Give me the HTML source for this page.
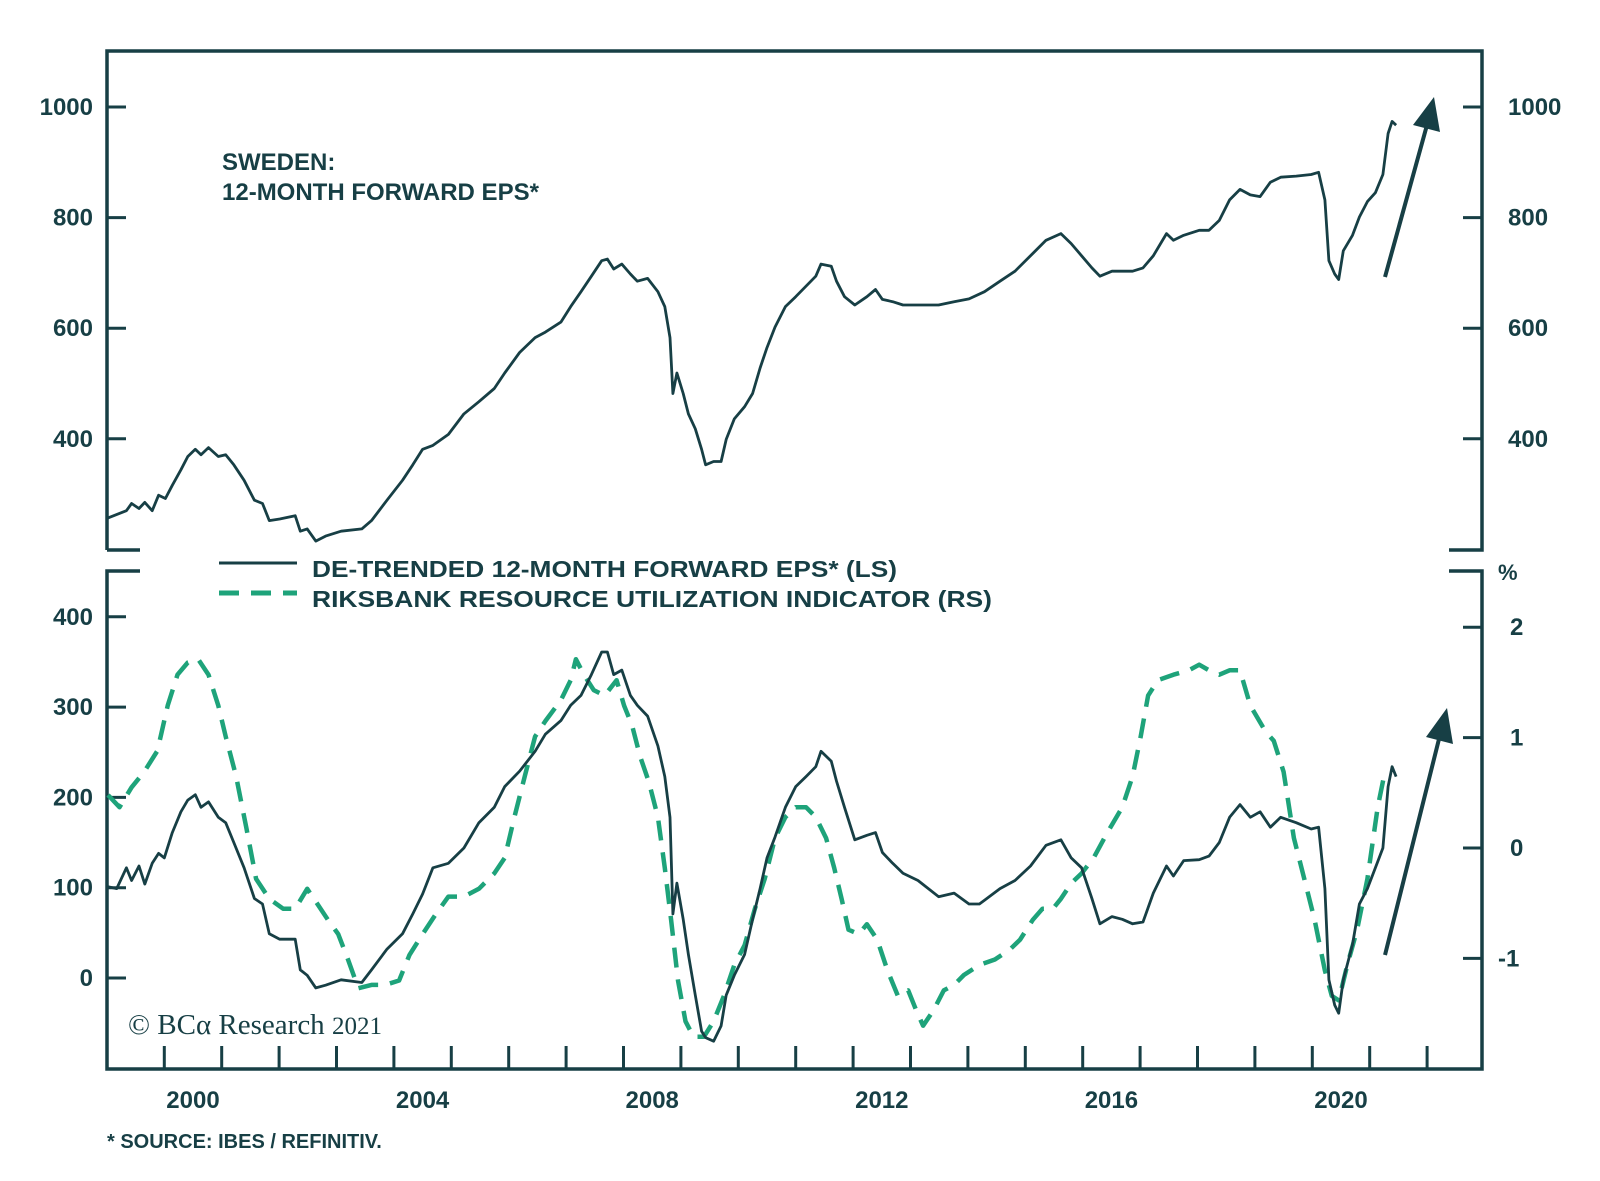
<!DOCTYPE html>
<html><head><meta charset="utf-8"><style>
html,body{margin:0;padding:0;background:#fff;}
svg{display:block;font-family:"Liberation Sans",sans-serif;}
</style></head><body>
<svg id="chart" width="1600" height="1181" viewBox="0 0 1600 1181">
<g id="frame" stroke="#173f45" stroke-width="3.5" fill="none"></g>
<g id="ticks" stroke="#173f45" stroke-width="3" fill="none"></g>
<g id="labels" fill="#173f45" font-weight="bold" font-size="24"></g>
<g id="series"></g>
<text x="222" y="170" fill="#173f45" font-weight="bold" font-size="24">SWEDEN:</text>
<text x="222" y="200" fill="#173f45" font-weight="bold" font-size="24">12-MONTH FORWARD EPS*</text>
<g>
<line x1="219" y1="563" x2="297" y2="563" stroke="#173f45" stroke-width="3"/>
<text x="312" y="577" fill="#173f45" font-weight="bold" font-size="23" textLength="585" lengthAdjust="spacingAndGlyphs">DE-TRENDED 12-MONTH FORWARD EPS* (LS)</text>
<line x1="219" y1="593" x2="297" y2="593" stroke="#1ea37a" stroke-width="5" stroke-dasharray="20,12"/>
<text x="312" y="607" fill="#173f45" font-weight="bold" font-size="23" textLength="680" lengthAdjust="spacingAndGlyphs">RIKSBANK RESOURCE UTILIZATION INDICATOR (RS)</text>
</g>
<text x="1498" y="580" fill="#173f45" font-weight="bold" font-size="22">%</text>
<text x="128" y="1034" fill="#173f45" font-family="'Liberation Serif',serif" font-size="29">© BCα Research <tspan font-size="25">2021</tspan></text>
<text x="107" y="1148" fill="#173f45" font-weight="bold" font-size="20">* SOURCE: IBES / REFINITIV.</text>
<g fill="#173f45" stroke="#173f45">
<line x1="1385" y1="277" x2="1427" y2="125" stroke-width="4"/>
<polygon points="1434,97 1440,132 1413,125" stroke="none"/>
<line x1="1385" y1="955" x2="1440" y2="735" stroke-width="4"/>
<polygon points="1447,708 1453,744 1426,737" stroke="none"/>
</g>
</svg>
<script>
var NS="http://www.w3.org/2000/svg";
var xLabels=["2000","2004","2008","2012","2016","2020"];
var topTicks=[400,600,800,1000];
var leftTicks=[0,100,200,300,400];
var rightTicks=[-1,0,1,2];
var epsYears=[1998.52,1998.84,1998.93,1999.06,1999.16,1999.29,1999.40,1999.52,1999.64,1999.79,1999.91,2000.04,2000.14,2000.27,2000.44,2000.57,2000.71,2000.89,2001.07,2001.21,2001.33,2001.51,2001.78,2001.87,2001.99,2002.14,2002.31,2002.58,2002.94,2003.11,2003.38,2003.65,2003.83,2004.00,2004.18,2004.45,2004.72,2004.98,2005.25,2005.43,2005.69,2005.96,2006.14,2006.41,2006.58,2006.76,2006.94,2007.12,2007.22,2007.33,2007.47,2007.62,2007.74,2007.92,2008.10,2008.22,2008.31,2008.36,2008.43,2008.54,2008.63,2008.75,2008.86,2008.93,2009.07,2009.20,2009.29,2009.43,2009.61,2009.75,2009.88,2010.00,2010.14,2010.32,2010.50,2010.68,2010.85,2010.94,2011.12,2011.21,2011.35,2011.53,2011.74,2011.89,2012.01,2012.19,2012.37,2012.99,2013.26,2013.52,2013.79,2014.06,2014.32,2014.59,2014.86,2015.12,2015.30,2015.48,2015.66,2015.80,2016.01,2016.37,2016.55,2016.73,2016.96,2017.08,2017.26,2017.53,2017.70,2017.88,2018.06,2018.24,2018.42,2018.59,2018.77,2018.95,2019.22,2019.48,2019.61,2019.72,2019.79,2019.89,2019.96,2020.04,2020.20,2020.32,2020.46,2020.60,2020.73,2020.82,2020.89,2020.96];
var epsValues=[257,270,283,274,285,270,298,292,316,344,368,381,371,384,368,371,353,325,289,283,252,255,261,233,237,215,224,233,237,252,289,325,353,381,388,408,445,467,491,519,556,583,593,611,639,666,694,722,725,707,716,698,685,690,666,639,583,482,519,482,445,418,381,353,359,359,399,436,458,482,528,565,602,639,657,676,694,716,712,685,657,642,657,670,652,648,642,642,648,653,666,685,703,731,759,771,753,731,709,694,703,703,709,731,771,759,768,777,777,795,832,851,841,838,864,873,875,878,882,832,722,698,688,740,768,801,829,845,878,952,974,967];
var detYears=[1998.52,1998.67,1998.84,1998.93,1999.06,1999.16,1999.29,1999.40,1999.50,1999.64,1999.79,1999.91,2000.04,2000.14,2000.27,2000.44,2000.57,2000.71,2000.89,2001.07,2001.21,2001.33,2001.51,2001.78,2001.87,2001.99,2002.14,2002.31,2002.58,2002.94,2003.11,2003.38,2003.65,2003.83,2004.00,2004.18,2004.45,2004.72,2004.98,2005.25,2005.43,2005.69,2005.96,2006.14,2006.41,2006.58,2006.76,2006.94,2007.12,2007.22,2007.33,2007.47,2007.62,2007.74,2007.92,2008.10,2008.22,2008.31,2008.36,2008.43,2008.54,2008.63,2008.75,2008.86,2008.93,2009.07,2009.20,2009.29,2009.43,2009.61,2009.75,2009.88,2010.00,2010.14,2010.32,2010.50,2010.68,2010.85,2010.94,2011.12,2011.21,2011.35,2011.53,2011.74,2011.89,2012.01,2012.19,2012.37,2012.63,2012.99,2013.26,2013.52,2013.70,2013.79,2014.06,2014.32,2014.59,2014.86,2015.12,2015.30,2015.48,2015.66,2015.80,2016.01,2016.19,2016.37,2016.55,2016.73,2016.96,2017.08,2017.26,2017.53,2017.70,2017.88,2018.06,2018.24,2018.42,2018.59,2018.77,2018.95,2019.22,2019.48,2019.61,2019.72,2019.79,2019.89,2019.96,2020.04,2020.20,2020.32,2020.46,2020.60,2020.73,2020.82,2020.89,2020.96];
var detValues=[101,99,122,108,124,104,127,138,133,161,184,197,203,189,195,178,172,150,122,88,82,49,43,43,9,3,-11,-8,-2,-5,9,32,49,71,93,122,127,144,172,189,212,229,251,270,285,302,313,336,361,361,336,341,313,302,290,257,223,178,71,105,65,26,-19,-59,-66,-70,-53,-19,3,26,65,99,133,156,189,212,223,234,251,240,218,189,153,158,161,139,127,116,108,90,94,82,82,86,99,108,124,147,153,133,122,88,60,68,65,60,62,94,124,113,130,131,135,150,178,192,178,184,167,178,172,165,167,99,-2,-30,-39,-2,37,82,99,122,144,212,234,223];
var rbYears=[1998.52,1998.72,1998.93,1999.15,1999.38,1999.56,1999.73,1999.91,2000.09,2000.27,2000.44,2000.57,2000.75,2000.93,2001.10,2001.33,2001.57,2001.78,2001.99,2002.17,2002.35,2002.53,2002.70,2002.88,2003.11,2003.35,2003.59,2003.77,2004.00,2004.23,2004.45,2004.72,2004.98,2005.25,2005.43,2005.60,2005.78,2005.96,2006.14,2006.41,2006.58,2006.67,2006.81,2006.98,2007.17,2007.38,2007.51,2007.65,2007.79,2007.94,2008.10,2008.22,2008.33,2008.45,2008.58,2008.72,2008.90,2009.07,2009.25,2009.43,2009.61,2009.79,2009.96,2010.14,2010.32,2010.50,2010.68,2010.85,2011.03,2011.17,2011.30,2011.42,2011.60,2011.74,2011.92,2012.10,2012.28,2012.46,2012.60,2012.72,2012.90,2013.08,2013.26,2013.43,2013.70,2013.97,2014.23,2014.41,2014.63,2014.80,2014.98,2015.12,2015.30,2015.48,2015.69,2015.93,2016.19,2016.37,2016.51,2016.64,2016.81,2017.08,2017.35,2017.53,2017.70,2017.88,2018.06,2018.24,2018.42,2018.68,2018.83,2019.00,2019.18,2019.36,2019.54,2019.72,2019.84,2019.96,2020.11,2020.28,2020.46,2020.64,2020.75];
var rbValues=[0.48,0.37,0.55,0.69,0.88,1.29,1.57,1.68,1.71,1.57,1.29,1.01,0.65,0.18,-0.28,-0.46,-0.55,-0.55,-0.37,-0.51,-0.65,-0.78,-1.01,-1.27,-1.24,-1.24,-1.2,-0.97,-0.78,-0.6,-0.44,-0.44,-0.37,-0.23,-0.09,0.28,0.65,1.01,1.15,1.34,1.52,1.71,1.57,1.43,1.38,1.52,1.29,1.11,0.83,0.6,0.28,-0.18,-0.65,-1.2,-1.57,-1.71,-1.71,-1.57,-1.34,-1.06,-0.88,-0.55,-0.28,0.09,0.28,0.37,0.37,0.28,0.09,-0.18,-0.46,-0.74,-0.78,-0.69,-0.83,-1.11,-1.34,-1.29,-1.47,-1.61,-1.47,-1.29,-1.24,-1.15,-1.06,-1.01,-0.92,-0.83,-0.65,-0.55,-0.55,-0.46,-0.32,-0.23,-0.09,0.14,0.37,0.65,1.01,1.38,1.52,1.57,1.61,1.66,1.61,1.57,1.61,1.61,1.29,1.06,0.97,0.69,0.09,-0.28,-0.65,-1.11,-1.34,-1.38,-1.06,-0.74,-0.28,0.37,0.65];

var L=107,R=1482,TT=51,TB=550,BT=571,BB=1069;
function xS(y){return 193+(y-2000)*57.4;}
function yT(v){return 107+(1000-v)*0.553;}
function yL(v){return 978-v*0.903;}
function yR(v){return 848-v*110.4;}
function mk(tag,attrs,parent){var e=document.createElementNS(NS,tag);for(var k in attrs)e.setAttribute(k,attrs[k]);parent.appendChild(e);return e;}
var frame=document.getElementById('frame'),ticks=document.getElementById('ticks'),labels=document.getElementById('labels'),series=document.getElementById('series');
var fr=mk('path',{d:'M'+L+' '+TB+' H'+(L+33)+' M'+L+' '+TB+' V'+TT+' H'+R+' V'+TB+' H'+(R-33)+' M'+(L+33)+' '+BT+' H'+L+' V'+BB+' H'+R+' V'+BT+' H'+(R-33)},frame);


topTicks.forEach(function(v){
  var y=yT(v);
  var t=mk('path',{d:'M'+L+' '+y+' h19 M'+R+' '+y+' h-19'},ticks);
  
  
  var a=mk('text',{x:93,y:y+8,'text-anchor':'end'},labels);a.textContent=v;
  
  
  var b=mk('text',{x:1508,y:y+8},labels);b.textContent=v;
  
  
});
leftTicks.forEach(function(v){
  var y=yL(v);
  var t=mk('path',{d:'M'+L+' '+y+' h19'},ticks);
  
  
  var a=mk('text',{x:93,y:y+8,'text-anchor':'end'},labels);a.textContent=v;
  
  
});
rightTicks.forEach(function(v){
  var y=yR(v);
  var t=mk('path',{d:'M'+R+' '+y+' h-19'},ticks);
  
  
  var a=mk('text',{x:v<0?1498:1510,y:y+8},labels);a.textContent=v;
  
  
});
for(var yr=1999.5;yr<2022;yr+=1){
  var x=xS(yr);
  var t=mk('path',{d:'M'+x+' '+BB+' v-23'},ticks);
  
  
}
xLabels.forEach(function(s){
  var a=mk('text',{x:xS(+s),y:1108,'text-anchor':'middle'},labels);a.textContent=s;
  
  
});
function path(xs,vs,ys){return xs.map(function(x,i){return (i?'L':'M')+xS(x).toFixed(1)+' '+ys(vs[i]).toFixed(1);}).join(' ');}
var p1=mk('path',{d:path(rbYears,rbValues,yR),fill:'none',stroke:'#1ea37a','stroke-width':4.5,'stroke-dasharray':'20,12','stroke-linejoin':'round'},series);


var p2=mk('path',{d:path(epsYears,epsValues,yT),fill:'none',stroke:'#173f45','stroke-width':2.8,'stroke-linejoin':'round'},series);


var p3=mk('path',{d:path(detYears,detValues,yL),fill:'none',stroke:'#173f45','stroke-width':2.8,'stroke-linejoin':'round'},series);


</script>
</body></html>
